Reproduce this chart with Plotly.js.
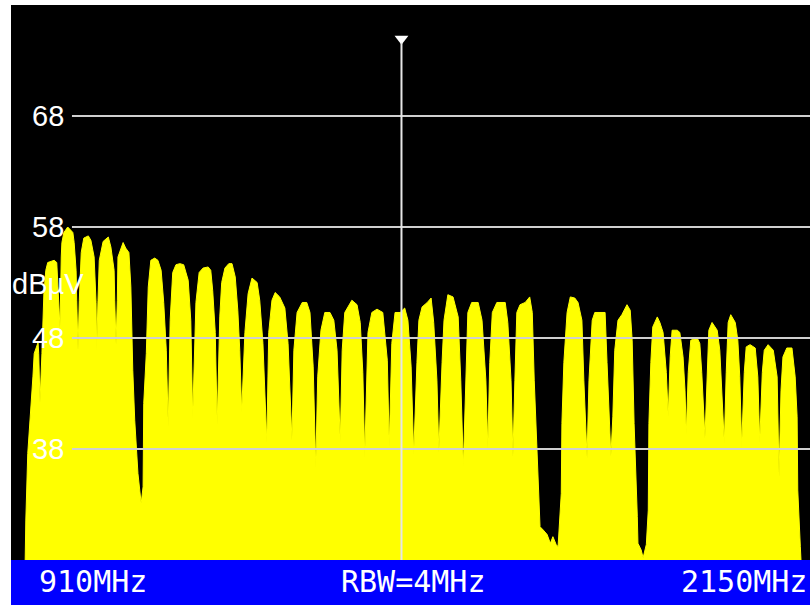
<!DOCTYPE html>
<html>
<head>
<meta charset="utf-8">
<script src="https://cdn.plot.ly/plotly-3.0.1.min.js"></script>
<style>html,body{margin:0;padding:0;background:#fff;}#chart{width:810px;height:605px;}</style>
</head>
<body>
<div id="chart"></div>
<script>
// Spectrum trace: frequency (MHz) and level (dBµV)
const freqMHz = [
932,933,936,941,944,946,949,952,953,955,
958,960,961,964,967,972,977,981,983,986,
988,989,992,995,998,1003,1006,1008,1011,1012,1014,
1016,1019,1023,1030,1034,1039,1042,1043,
1045,1047,1053,1061,1065,1070,1071,1073,
1075,1076,1084,1088,1093,1096,1099,1102,1107,1112,1115,1116,1120,
1123,1127,1133,1138,1143,1147,1151,1154,
1157,1161,1166,1172,1178,1185,1189,1192,
1197,1202,1208,1216,1220,1223,1227,1230,
1234,1237,1242,1248,1253,1258,1262,1265,1268,
1273,1278,1284,1292,1296,1301,1307,
1310,1315,1320,1327,1335,1340,1346,
1349,1354,1362,1369,1374,1379,1383,
1386,1391,1397,1405,1411,1416,1421,
1424,1428,1439,1447,1452,1456,1459,
1464,1470,1478,1487,1494,1497,
1501,1506,1514,1521,1526,1531,1535,
1540,1543,1548,1556,1562,1566,1571,1574,
1579,1582,1588,1596,1604,1608,1612,
1616,1619,1625,1635,1641,1647,1650,
1653,1657,1664,1677,1681,1686,1689,
1692,1695,1700,1708,1715,1719,1722,1726,1728,1731,
1736,1742,1747,1751,1756,1759,1764,1765,1768,
1773,1778,1785,1790,1796,1799,1804,
1807,1812,1816,1827,1832,1835,1838,1841,
1844,1847,1852,1858,1866,1871,1874,1877,1882,1883,1888,1891,1896,1899,1900,1903,
1906,1913,1917,1922,1927,1930,
1933,1936,1944,1948,1953,1956,1958,
1961,1965,1975,1979,1982,1987,
1990,1993,1998,2006,2010,2013,2017,
2020,2023,2027,2034,2038,2041,2044,
2048,2051,2057,2065,2069,2072,
2076,2079,2085,2093,2099,2102,
2105,2108,2114,2122,2127,2130,2131,2135,2136
];
const levelDbuV = [
28.0,31.6,37.6,41.5,44.5,46.6,47.2,47.6,46.6,42.2,
46.6,49.6,52.0,54.1,54.8,54.9,55.0,54.8,52.6,48.9,
55.3,56.6,57.5,57.8,58.0,57.7,57.5,56.6,54.1,51.4,46.9,
51.4,55.7,57.0,57.2,56.8,55.3,51.2,46.9,
51.4,55.0,56.7,57.1,56.2,54.1,51.4,47.4,
51.4,55.3,56.6,56.1,55.7,52.6,45.1,40.6,35.8,33.1,34.6,42.1,46.6,
52.6,55.0,55.2,55.0,54.1,51.2,46.9,40.0,
49.6,53.9,54.6,54.7,54.6,53.2,49.6,40.8,
51.2,53.9,54.3,54.4,54.1,52.3,48.5,40.2,
49.9,53.0,54.3,54.7,54.7,53.5,50.5,46.9,41.3,
48.5,52.0,53.4,53.0,51.4,47.5,38.6,
48.5,51.4,52.1,51.7,50.7,47.5,38.8,
46.9,50.3,51.2,51.2,50.3,45.4,36.3,
44.5,48.7,50.3,50.3,49.6,46.9,38.6,
46.9,50.3,51.4,51.0,49.4,44.9,37.3,
48.5,50.3,50.6,50.3,46.0,38.2,
47.5,50.3,50.3,50.7,49.6,45.4,37.5,
45.8,49.6,50.8,51.2,51.6,49.4,44.2,37.7,
45.8,49.6,51.9,51.7,49.9,44.2,36.4,
45.8,50.3,51.2,51.2,49.6,44.2,38.1,
45.8,50.3,51.2,51.2,49.4,44.2,37.3,
44.2,50.3,51.0,51.2,51.7,50.3,44.2,38.2,34.3,31.0,
30.7,30.3,29.5,30.1,29.4,29.2,34.0,40.3,45.8,
50.3,51.7,51.6,51.2,49.6,44.2,37.2,
44.2,49.6,50.3,50.3,50.3,45.8,40.9,37.3,
40.9,46.9,49.6,50.1,51.0,50.5,47.8,40.3,31.9,29.5,28.9,28.2,29.4,32.5,40.3,45.8,
49.0,49.9,49.4,48.5,44.9,40.9,
46.3,48.7,48.7,48.5,46.3,43.3,39.3,
44.9,47.8,48.0,47.5,44.9,39.0,
44.9,48.7,49.4,48.7,46.9,43.3,38.5,
44.9,49.4,50.1,49.4,47.8,44.5,38.2,
44.9,47.2,47.4,47.1,44.5,38.6,
44.9,46.9,47.4,46.9,44.5,35.5,
43.3,46.3,47.1,47.1,44.5,40.9,34.3,29.2,28.0
];
const gridLevels = [38, 48, 58, 68];
const gridLabels = ["38", "48", "58", "68"];
const markerFreq = 1516;
const startLabel = "910MHz";
const rbwLabel = "RBW=4MHz";
const stopLabel = "2150MHz";
const unitLabel = "dBµV";

const X0 = 910, X1 = 2150, Y0 = 28, Y1 = 78;

const traces = [
  {
    x: freqMHz, y: levelDbuV, type: 'scatter', mode: 'lines',
    fill: 'tozeroy', fillcolor: '#ffff00',
    line: {color: '#ffff00', width: 1, shape: 'linear'},
    hoverinfo: 'skip', showlegend: false
  },
  {
    x: [markerFreq], y: [74.95], type: 'scatter', mode: 'markers',
    marker: {symbol: 'triangle-down', size: 12, color: '#ffffff', line: {width: 0}},
    hoverinfo: 'skip', showlegend: false
  }
];

const shapes = [];
gridLevels.forEach(v => shapes.push({
  type: 'line', xref: 'paper', yref: 'y', x0: 0.0763, x1: 1, y0: v, y1: v,
  line: {color: '#cfcfcf', width: 2}, layer: 'above'
}));
shapes.push({
  type: 'line', xref: 'x', yref: 'y', x0: markerFreq, x1: markerFreq, y0: Y0, y1: 74.6,
  line: {color: '#e6e6e6', width: 2}, layer: 'above'
});
shapes.push({
  type: 'rect', xref: 'paper', yref: 'paper', x0: 0, x1: 1, y0: -45/555, y1: 0,
  fillcolor: '#0000ff', line: {width: 0}, layer: 'above'
});

const labelFont = {family: 'Liberation Sans, Arial, sans-serif', size: 29, color: '#ffffff'};
const barFont = {family: 'DejaVu Sans Mono, monospace', size: 30, color: '#ffffff'};

const annotations = [];
gridLevels.forEach((v, i) => annotations.push({
  xref: 'paper', yref: 'y', x: 0.0676, y: v, xanchor: 'right', yanchor: 'middle',
  text: gridLabels[i], showarrow: false, font: labelFont, borderpad: 0
}));
annotations.push({
  xref: 'paper', yref: 'y', x: 0, y: 52.9, xanchor: 'left', yanchor: 'middle',
  text: unitLabel, showarrow: false, font: labelFont, borderpad: 0
});
annotations.push({
  xref: 'paper', yref: 'paper', x: 0.0338, y: -0.0396, xanchor: 'left', yanchor: 'middle',
  text: startLabel, showarrow: false, font: barFont, borderpad: 0
});
annotations.push({
  xref: 'paper', yref: 'paper', x: 0.4118, y: -0.0396, xanchor: 'left', yanchor: 'middle',
  text: rbwLabel, showarrow: false, font: barFont, borderpad: 0
});
annotations.push({
  xref: 'paper', yref: 'paper', x: 0.8373, y: -0.0396, xanchor: 'left', yanchor: 'middle',
  text: stopLabel, showarrow: false, font: barFont, borderpad: 0
});

const layout = {
  width: 810, height: 605,
  margin: {l: 11, r: 0, t: 5, b: 45, pad: 0},
  paper_bgcolor: '#ffffff', plot_bgcolor: '#000000',
  xaxis: {range: [X0, X1], showgrid: false, zeroline: false, showticklabels: false, ticks: '', showline: false, fixedrange: true},
  yaxis: {range: [Y0, Y1], showgrid: false, zeroline: false, showticklabels: false, ticks: '', showline: false, fixedrange: true},
  shapes: shapes, annotations: annotations, showlegend: false
};

Plotly.newPlot('chart', traces, layout, {displayModeBar: false, staticPlot: true});
</script>
</body>
</html>
